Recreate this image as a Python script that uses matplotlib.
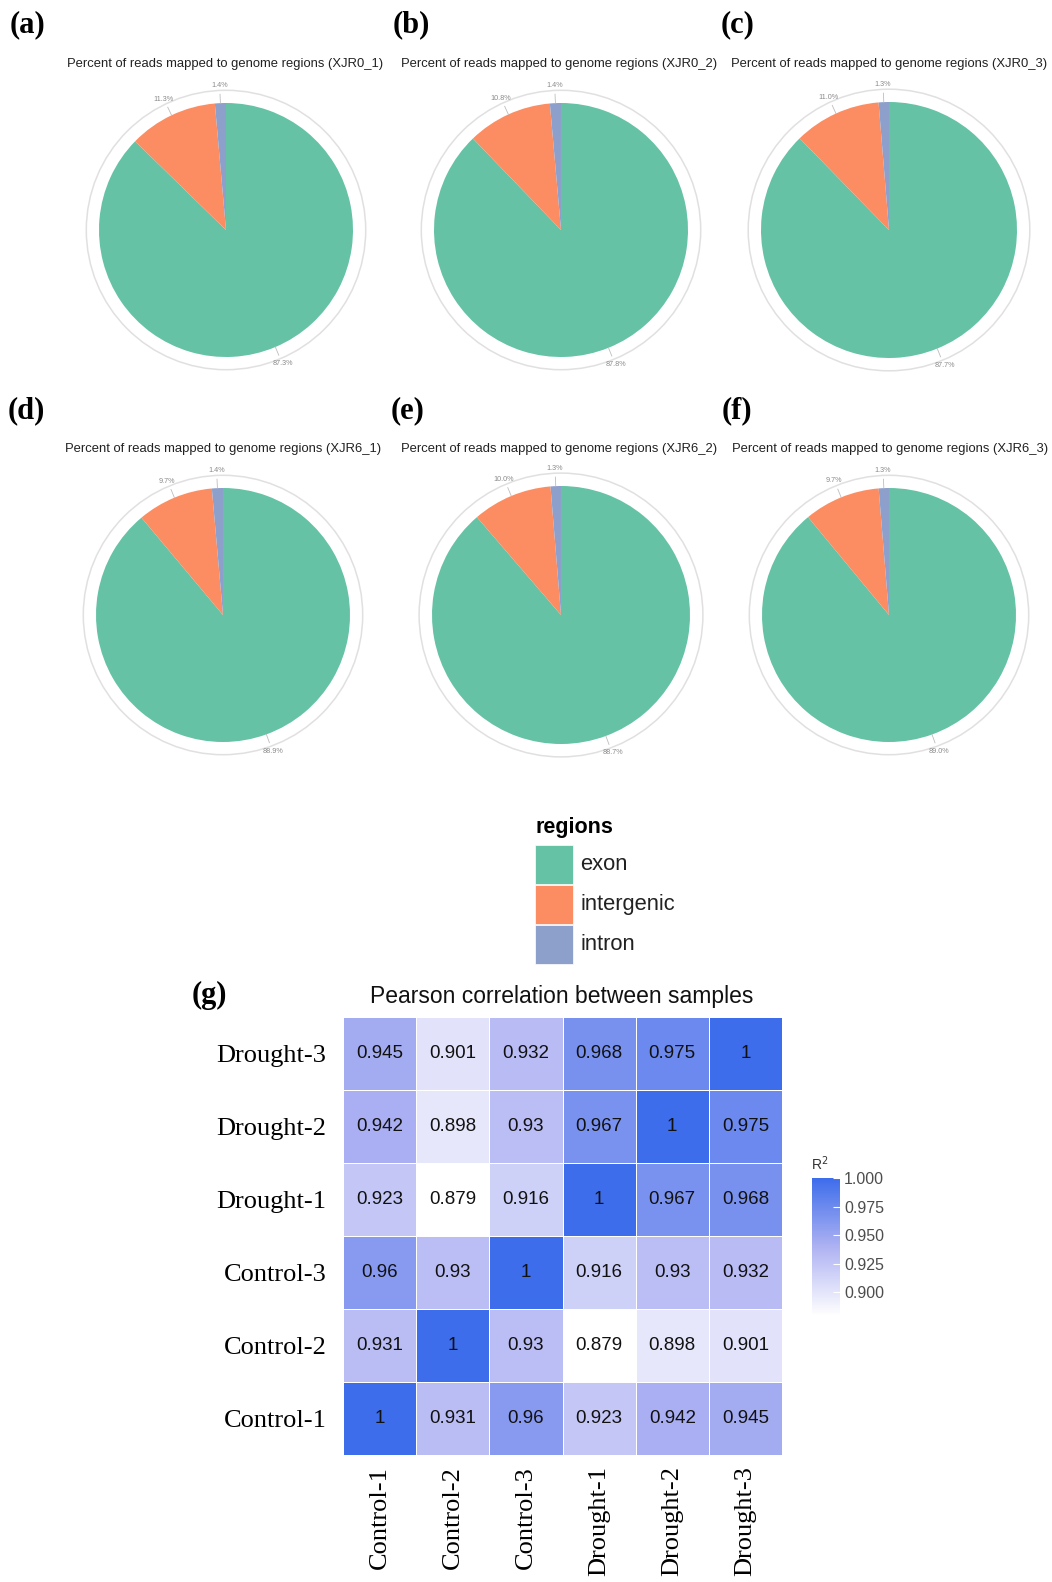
import numpy as np
import matplotlib
matplotlib.use("Agg")
import matplotlib.pyplot as plt
from matplotlib.colors import LinearSegmentedColormap, Normalize
from matplotlib.cm import ScalarMappable
from matplotlib.patches import Rectangle, Circle

plt.rcParams["font.family"] = ["Liberation Sans", "DejaVu Sans"]

W, H = 1052, 1582

# read percentages per sample: exon, intergenic, intron
regions = ["exon", "intergenic", "intron"]
region_colors = ["#66C2A5", "#FC8D62", "#8DA0CB"]
samples = ["XJR0_1", "XJR0_2", "XJR0_3", "XJR6_1", "XJR6_2", "XJR6_3"]
exon = [87.3, 87.8, 87.7, 88.9, 88.7, 89.0]
intergenic = [11.3, 10.8, 11.0, 9.7, 10.0, 9.7]
intron = [1.4, 1.4, 1.3, 1.4, 1.3, 1.3]

# correlation matrix between libraries
corr_labels = ["Control-1", "Control-2", "Control-3", "Drought-1", "Drought-2", "Drought-3"]
corr = np.array([
    [1, 0.931, 0.96, 0.923, 0.942, 0.945],
    [0.931, 1, 0.93, 0.879, 0.898, 0.901],
    [0.96, 0.93, 1, 0.916, 0.93, 0.932],
    [0.923, 0.879, 0.916, 1, 0.967, 0.968],
    [0.942, 0.898, 0.93, 0.967, 1, 0.975],
    [0.945, 0.901, 0.932, 0.968, 0.975, 1],
])
cbar_ticks = [0.900, 0.925, 0.950, 0.975, 1.000]


def px_axes(fig, x0, y0, w, h):
    # pixel box (top-left origin) -> figure axes
    return fig.add_axes([x0 / W, 1 - (y0 + h) / H, w / W, h / H])


fig = plt.figure(figsize=(W / 100, H / 100), dpi=100)

# pie layout: center x, center y, radius (pixels)
pie_pos = [(226, 230, 127), (561, 230, 127), (889, 230, 128),
           (223, 615, 127), (561, 615, 129), (889, 615, 127)]
title_pos = [(225, 64), (559, 64), (889, 64), (223, 449), (559, 449), (890, 449)]
letters = ["(a)", "(b)", "(c)", "(d)", "(e)", "(f)"]
letter_pos = [(10, 25), (393, 25), (721, 25), (8, 411), (391, 411), (722, 411)]

lim = 1.3
for i, s in enumerate(samples):
    cx, cy, r = pie_pos[i]
    size = 2 * lim * r
    ax = px_axes(fig, cx - size / 2, cy - size / 2, size, size)
    vals = [exon[i], intergenic[i], intron[i]]
    ax.pie(vals, colors=region_colors, startangle=90, counterclock=False,
           radius=1.0, wedgeprops=dict(linewidth=0))
    ax.add_patch(Circle((0, 0), 1.1, fill=False, edgecolor="#E0E0E0", lw=1.1))
    total = sum(vals)
    cum = 0
    for v in vals:
        mid = 90 - 360 * (cum + v / 2) / total
        cum += v
        t = np.deg2rad(mid)
        ax.plot([np.cos(t), 1.07 * np.cos(t)], [np.sin(t), 1.07 * np.sin(t)],
                color="#BDBDBD", lw=0.6)
        ax.text(1.15 * np.cos(t), 1.14 * np.sin(t), f"{v:.1f}%",
                ha="center", va="center", fontsize=5.2, color="#8A8A8A")
    ax.set_xlim(-lim, lim)
    ax.set_ylim(-lim, lim)
    ax.set_aspect("equal")
    ax.axis("off")

    tx, ty = title_pos[i]
    fig.text(tx / W, 1 - ty / H, f"Percent of reads mapped to genome regions ({s})",
             ha="center", va="center", fontsize=9.4, color="#222222")
    lx, ly = letter_pos[i]
    fig.text(lx / W, 1 - ly / H, letters[i], ha="left", va="center",
             fontsize=22, fontweight="bold", family="Liberation Serif")

# legend for the region colours
lax = px_axes(fig, 520, 805, 220, 170)
lax.set_xlim(520, 740)
lax.set_ylim(975, 805)
lax.axis("off")
lax.text(535, 827, "regions", ha="left", va="center", fontsize=15.5, fontweight="bold")
key_top = [845, 885, 925]
for name, col, yt in zip(regions, region_colors, key_top):
    lax.add_patch(Rectangle((535, yt), 38, 39, facecolor=col, edgecolor="white", lw=0.5))
    lax.text(580, yt + 19.5, name, ha="left", va="center", fontsize=15.8, color="#222222")

# correlation heatmap
cmap = LinearSegmentedColormap.from_list(
    "wb", [(0, "#FFFFFF"), (0.5, "#AEB2F2"), (1, "#3D6DEB")])
norm = Normalize(vmin=corr.min(), vmax=1.0)

hax = px_axes(fig, 343, 1017, 439, 438)
n = len(corr_labels)
hax.pcolormesh(np.arange(n + 1), np.arange(n + 1), corr, cmap=cmap, norm=norm,
               edgecolors="white", linewidth=0.6)
for r_i in range(n):
    for c_i in range(n):
        hax.text(c_i + 0.5, r_i + 0.5, f"{corr[r_i, c_i]:g}", ha="center", va="center",
                 fontsize=13.5, color="#111111")
hax.set_xlim(0, n)
hax.set_ylim(0, n)
hax.set_xticks(np.arange(n) + 0.5)
hax.set_yticks(np.arange(n) + 0.5)
hax.set_xticklabels(corr_labels, rotation=90, fontsize=19, family="Liberation Serif")
hax.set_yticklabels(corr_labels, fontsize=19, family="Liberation Serif")
hax.tick_params(length=0, pad=8)
hax.tick_params(axis="y", pad=12)
for sp in hax.spines.values():
    sp.set_visible(False)
fig.text(562 / W, 1 - 997 / H, "Pearson correlation between samples",
         ha="center", va="center", fontsize=16.5, color="#111111")
fig.text(192 / W, 1 - 995 / H, "(g)", ha="left", va="center",
         fontsize=22, fontweight="bold", family="Liberation Serif")

cax = px_axes(fig, 812, 1178, 28, 138)
cb = fig.colorbar(ScalarMappable(norm=norm, cmap=cmap), cax=cax, ticks=cbar_ticks)
cb.outline.set_visible(False)
cb.ax.set_yticklabels([f"{t:.3f}" for t in cbar_ticks])
cb.ax.tick_params(direction="in", color="white", length=5, width=0.8,
                  labelsize=11.5, labelcolor="#4D4D4D", pad=3)
fig.text(811 / W, 1 - 1164 / H, "R$^2$", ha="left", va="center", fontsize=10,
         color="#333333")

fig.savefig("out.png", dpi=100)
